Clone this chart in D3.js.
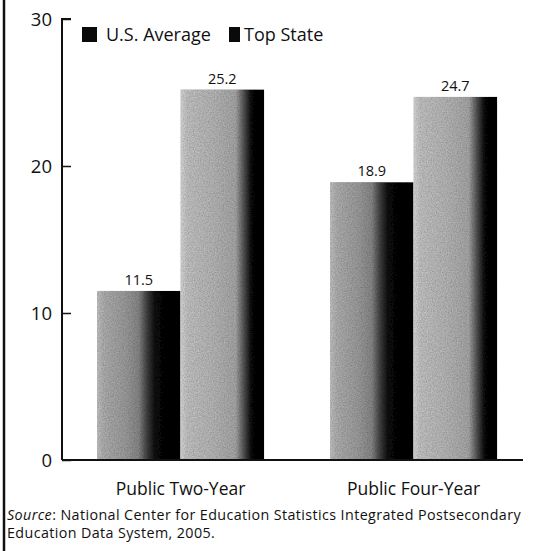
<!DOCTYPE html>
<html>
<head>
<meta charset="utf-8">
<script src="https://cdn.jsdelivr.net/npm/d3@7/dist/d3.min.js"></script>
<style>
  html, body { margin: 0; padding: 0; background: #fff; }
  svg { display: block; }
  text { font-family: "Open Sans", "Noto Sans", sans-serif; fill: #111; }
</style>
</head>
<body>
<svg id="chart" width="537" height="551"></svg>
<script>
// Categories, series and values
const categories = ["Public Two-Year", "Public Four-Year"];
const seriesNames = ["U.S. Average", "Top State"];
const usAverage = [11.5, 18.9];
const topState = [25.2, 24.7];
const yTicks = [0, 10, 20, 30];
const sourceLines = [
  ["Source", ": National Center for Education Statistics Integrated Postsecondary"],
  ["", "Education Data System, 2005."]
];

const svg = d3.select("#chart");
const W = 537, H = 551;

// Frame line along the left edge
svg.append("line")
  .attr("x1", 4).attr("x2", 4).attr("y1", 0).attr("y2", H)
  .attr("stroke", "#111").attr("stroke-width", 2.5);

const plot = { left: 62, right: 523, top: 19, bottom: 460 };

const y = d3.scaleLinear().domain([0, 30]).range([plot.bottom, plot.top]);

const x0 = d3.scaleBand()
  .domain(categories)
  .range([73.7, 520.4])
  .paddingInner(0.283)
  .paddingOuter(0.1);
const x1 = d3.scaleBand()
  .domain(seriesNames)
  .range([0, x0.bandwidth()])
  .padding(0);

// Gradients: light grey on the left shading to black on the right
const defs = svg.append("defs");
const gradStops = {
  "U.S. Average": [[0, "#b4b4b4"], [0.08, "#a2a2a2"], [0.35, "#8f8f8f"], [0.5, "#7c7c7c"], [0.6, "#3a3a3a"], [0.7, "#080808"], [1, "#000"]],
  "Top State": [[0, "#c8c8c8"], [0.08, "#b4b4b4"], [0.4, "#a8a8a8"], [0.66, "#9a9a9a"], [0.76, "#4a4a4a"], [0.85, "#070707"], [1, "#000"]]
};
seriesNames.forEach((s, i) => {
  const g = defs.append("linearGradient")
    .attr("id", "grad" + i)
    .attr("x1", "0%").attr("x2", "100%").attr("y1", "0%").attr("y2", "0%");
  gradStops[s].forEach(([o, c]) => g.append("stop").attr("offset", o).attr("stop-color", c));
});

// Grainy texture over the bars
const f = defs.append("filter").attr("id", "grain").attr("x", 0).attr("y", 0).attr("width", 1).attr("height", 1);
f.append("feTurbulence").attr("type", "fractalNoise").attr("baseFrequency", 0.8).attr("numOctaves", 2).attr("seed", 5).attr("result", "noise");
f.append("feColorMatrix").attr("in", "noise").attr("type", "saturate").attr("values", 0).attr("result", "grey");
f.append("feComponentTransfer").attr("in", "grey").attr("result", "soft")
  .call(t => t.append("feFuncA").attr("type", "linear").attr("slope", 0).attr("intercept", 0.5));
f.append("feComposite").attr("in", "soft").attr("in2", "SourceGraphic").attr("operator", "in").attr("result", "tintIn");
f.append("feBlend").attr("in", "tintIn").attr("in2", "SourceGraphic").attr("mode", "overlay");

const rows = categories.map((c, i) => ({ cat: c, vals: [usAverage[i], topState[i]] }));

const groups = svg.append("g").selectAll("g")
  .data(rows).join("g")
  .attr("transform", d => `translate(${x0(d.cat)},0)`);

groups.selectAll("rect")
  .data(d => d.vals.map((v, j) => ({ s: seriesNames[j], v, j })))
  .join("rect")
  .attr("x", d => x1(d.s))
  .attr("width", x1.bandwidth())
  .attr("y", d => y(d.v))
  .attr("height", d => y(0) - y(d.v))
  .attr("fill", d => `url(#grad${d.j})`)
  .attr("filter", "url(#grain)");

groups.selectAll("text.val")
  .data(d => d.vals.map((v, j) => ({ s: seriesNames[j], v })))
  .join("text")
  .attr("class", "val")
  .attr("x", d => x1(d.s) + x1.bandwidth() / 2)
  .attr("y", d => y(d.v) - 6)
  .attr("text-anchor", "middle")
  .attr("font-size", 14.5)
  .text(d => d.v.toFixed(1));

// Y axis with inward ticks
const yAxis = d3.axisRight(y).tickValues(yTicks).tickSize(9).tickFormat("");
const yg = svg.append("g").attr("transform", `translate(${plot.left},0)`).call(yAxis);
yg.select(".domain").attr("stroke", "#111").attr("stroke-width", 2).attr("d", `M9,${plot.top}H0V${plot.bottom}`);
yg.selectAll(".tick line").attr("stroke", "#111").attr("stroke-width", 1.5);

svg.append("g").selectAll("text")
  .data(yTicks).join("text")
  .attr("x", 52).attr("y", d => y(d) + 6.5)
  .attr("text-anchor", "end")
  .attr("font-size", 18.5)
  .text(d => d);

// X axis baseline and category labels
const xAxis = d3.axisBottom(x0).tickSize(0).tickPadding(0);
const xg = svg.append("g").attr("transform", `translate(0,${plot.bottom})`).call(xAxis);
xg.select(".domain").attr("stroke", "#111").attr("stroke-width", 2).attr("d", `M${plot.left},0H${plot.right}`);
xg.selectAll(".tick text")
  .attr("font-size", 17.5)
  .attr("font-family", "'Open Sans', 'Noto Sans', sans-serif")
  .attr("fill", "#111")
  .attr("y", 35)
  .attr("dy", "0");

// Legend
const legendItems = [
  { name: seriesNames[0], x: 82, w: 15, tx: 24 },
  { name: seriesNames[1], x: 229, w: 11, tx: 15 }
];
const lg = svg.append("g").selectAll("g").data(legendItems).join("g")
  .attr("transform", d => `translate(${d.x},27)`);
lg.append("rect").attr("width", d => d.w).attr("height", 15).attr("fill", "#0a0a0a");
lg.append("text").attr("x", d => d.tx).attr("y", 13.5).attr("font-size", 18).text(d => d.name);

// Source note, spaced to run the full width of the frame
const src = svg.append("g").selectAll("text").data(sourceLines).join("text")
  .attr("x", 7).attr("y", (d, i) => 520 + i * 18)
  .attr("font-size", 14.3);
src.append("tspan").attr("font-style", "italic").text(d => d[0]);
src.append("tspan").text(d => d[1]);
const first = src.nodes()[0];
const natural = first.getComputedTextLength();
const chars = (sourceLines[0][0] + sourceLines[0][1]).length;
const spacing = Math.max(0, (514 - natural) / chars);
src.attr("letter-spacing", spacing);
</script>
</body>
</html>
